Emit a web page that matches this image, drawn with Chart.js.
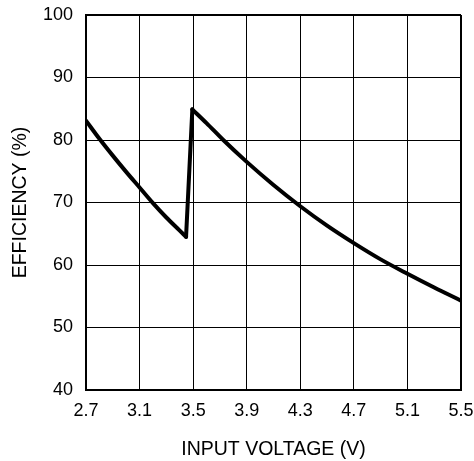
<!DOCTYPE html>
<html>
<head>
<meta charset="utf-8">
<script src="https://cdn.jsdelivr.net/npm/chart.js@4"></script>
<style>
  html, body { margin: 0; padding: 0; background: #fff; }
  #wrap { width: 474px; height: 461px; }
</style>
</head>
<body>
<div id="wrap"><canvas id="chart" width="474" height="461"></canvas></div>
<script>
const voltage = [2.7, 2.8, 2.9, 3.0, 3.1, 3.2, 3.3, 3.4, 3.447, 3.494, 3.6, 3.725, 3.9, 4.1, 4.3, 4.5, 4.7, 4.9, 5.1, 5.3, 5.5];
const efficiency = [83.1, 80.2, 77.5, 74.9, 72.4, 69.9, 67.6, 65.5, 64.5, 84.9, 82.7, 80.0, 76.5, 72.8, 69.4, 66.3, 63.5, 60.9, 58.6, 56.4, 54.3];
const jumpIndex = 8; // last point before the mode switch
const xTicks = [2.7, 3.1, 3.5, 3.9, 4.3, 4.7, 5.1, 5.5];
const yTicks = [40, 50, 60, 70, 80, 90, 100];

const points = voltage.map((v, i) => ({ x: v, y: efficiency[i] }));
const tickFont = { family: "'Liberation Sans', Arial, sans-serif", size: 18 };
const titleFont = { family: "'Liberation Sans', Arial, sans-serif", size: 19.5 };

function edgeWidth(ctx, count) {
  return (ctx.index === 0 || ctx.index === count - 1) ? 2 : 1;
}

function line(data, smooth) {
  return {
    data: data,
    showLine: true,
    borderColor: "#000",
    borderWidth: 4,
    borderCapStyle: "round",
    pointRadius: 0,
    cubicInterpolationMode: smooth ? "monotone" : "default",
    tension: smooth ? 0.4 : 0
  };
}

new Chart(document.getElementById("chart"), {
  type: "scatter",
  data: {
    datasets: [
      line(points.slice(0, jumpIndex + 1), true),
      line(points.slice(jumpIndex, jumpIndex + 2), false),
      line(points.slice(jumpIndex + 1), true)
    ]
  },
  options: {
    responsive: false,
    animation: false,
    layout: { padding: { left: 0, right: 0, top: 6, bottom: 0 } },
    plugins: { legend: { display: false }, tooltip: { enabled: false } },
    scales: {
      x: {
        type: "linear",
        min: 2.7,
        max: 5.5,
        afterBuildTicks: s => { s.ticks = xTicks.map(v => ({ value: v })); },
        afterFit: s => { s.height = 71; s.paddingRight = 13; },
        grid: { color: "#000", lineWidth: ctx => edgeWidth(ctx, xTicks.length), drawTicks: false },
        border: { color: "#000", width: 2 },
        ticks: { color: "#000", font: tickFont, padding: 10, maxRotation: 0, callback: v => v.toFixed(1) },
        title: { display: true, text: "INPUT VOLTAGE (V)", color: "#000", font: titleFont, padding: { top: 10, bottom: 0 } }
      },
      y: {
        min: 40,
        max: 100,
        afterBuildTicks: s => { s.ticks = yTicks.map(v => ({ value: v })); },
        afterFit: s => { s.width = 86; s.paddingTop = 15; },
        grid: { color: "#000", lineWidth: ctx => edgeWidth(ctx, yTicks.length), drawTicks: false },
        border: { color: "#000", width: 2 },
        ticks: { color: "#000", font: tickFont, padding: 13 },
        title: { display: true, text: "EFFICIENCY (%)", color: "#000", font: titleFont, padding: { top: 9, bottom: 0 } }
      }
    }
  }
});
</script>
</body>
</html>
